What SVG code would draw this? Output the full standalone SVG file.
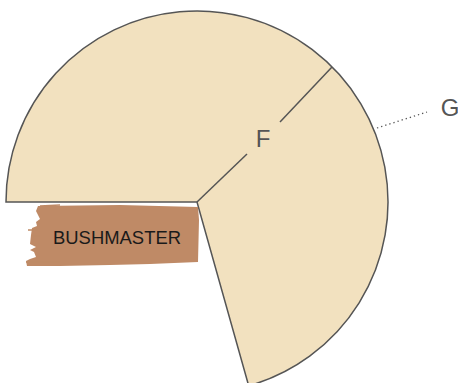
<svg xmlns="http://www.w3.org/2000/svg" width="458" height="383" viewBox="0 0 458 383">
<style>
.slice{fill:#f2e1bf;stroke:#555;stroke-width:1.5;stroke-linejoin:miter}
.div{stroke:#555;stroke-width:1.5;fill:none}
.lbl{font-family:"Liberation Sans","DejaVu Sans",sans-serif;font-size:24px;fill:#555}
.tag{font-family:"Liberation Sans","DejaVu Sans",sans-serif;font-size:19px;fill:#1a1a1a}
</style>
<rect width="458" height="383" fill="#fff"/>
<g id="pie">
<path class="slice" d="M197,202 L6,202 A191,191 0 1 1 248.7,385.8 Z"/>
</g>
<g id="connectors">
<line class="div" x1="197" y1="202" x2="247" y2="154"/>
<line class="div" x1="280" y1="122" x2="332" y2="67"/>
<line x1="377" y1="128" x2="427" y2="112" stroke="#555" stroke-width="1.3" stroke-dasharray="1.3,3"/>
</g>
<g id="F">
<text class="lbl" x="263" y="147" text-anchor="middle">F</text>
</g>
<g id="G">
<text class="lbl" x="450" y="116" text-anchor="middle">G</text>
</g>
<g id="bushmaster">
<path fill="#bf8a66" d="M38,206 L120,205 L198,207 L199,220 L198,262 L150,264 L110,265 L60,266 L27,266 L26,261 L30,259 L36,257 L34,252 L30,250 L36,247 L30,244 L31,235 L32,228 L37,226 L36,222 L40,219 L38,215 L36,211 Z"/>
<path fill="none" stroke="#bf8a66" stroke-width="1.5" d="M26,262 L60,262 M32,236 L40,236 M28,230 L38,230 M40,206 L60,205"/>
<text class="tag" x="117" y="244" text-anchor="middle" textLength="128" lengthAdjust="spacingAndGlyphs">BUSHMASTER</text>
</g>
</svg>
